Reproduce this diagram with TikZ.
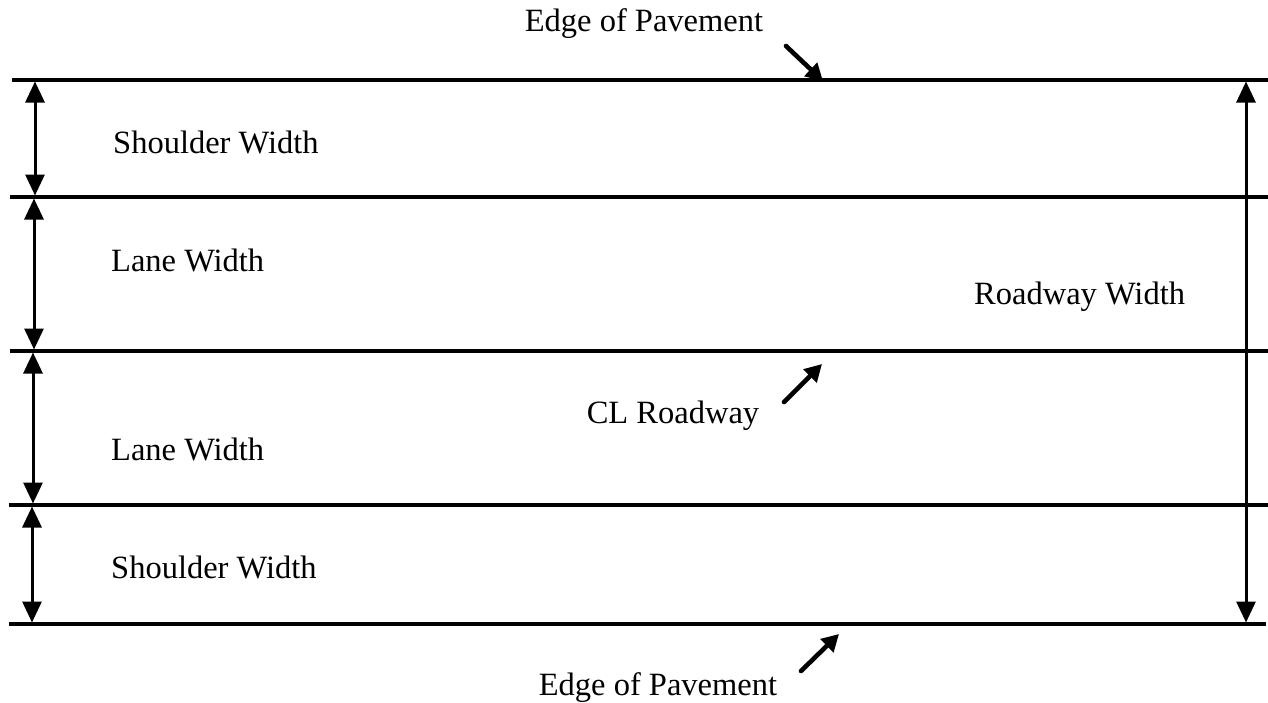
\documentclass[tikz,border=0pt]{standalone}
\usepackage{fontspec}
\setmainfont{Liberation Serif}
\usetikzlibrary{arrows.meta}
\begin{document}
\begin{tikzpicture}[x=1pt,y=-1pt,
  road/.style={line width=4.2pt},
  dim/.style={line width=3pt,{Triangle[length=21pt,width=19pt]}-{Triangle[length=21pt,width=19pt]},shorten <=1.5pt,shorten >=1.5pt},
  pointer/.style={line width=4.6pt,-{Triangle[length=17pt,width=18pt]},line cap=round},
  lbl/.style={inner sep=0pt,font=\fontsize{32.5}{38}\selectfont}]
\useasboundingbox (0,0) rectangle (1268,702);
% pavement lines
\coordinate (l1a) at (12,80);  \coordinate (l1b) at (1268,80);
\coordinate (l2a) at (10,197); \coordinate (l2b) at (1268,197);
\coordinate (l3a) at (10,351); \coordinate (l3b) at (1268,351);
\coordinate (l4a) at (9,505);  \coordinate (l4b) at (1268,505);
\coordinate (l5a) at (9,624);  \coordinate (l5b) at (1266,624);
\draw[road] (l1a) -- (l1b);
\draw[road] (l2a) -- (l2b);
\draw[road] (l3a) -- (l3b);
\draw[road] (l4a) -- (l4b);
\draw[road] (l5a) -- (l5b);
% dimension arrows
\coordinate (d1t) at (35,80);  \coordinate (d1b) at (35,197);
\coordinate (d2t) at (34,197); \coordinate (d2b) at (34,351);
\coordinate (d3t) at (33,351); \coordinate (d3b) at (33,505);
\coordinate (d4t) at (32,505); \coordinate (d4b) at (32,624);
\coordinate (rwt) at (1246,80); \coordinate (rwb) at (1246,624);
\draw[dim] (d1t) -- (d1b);
\draw[dim] (d2t) -- (d2b);
\draw[dim] (d3t) -- (d3b);
\draw[dim] (d4t) -- (d4b);
\draw[dim] (rwt) -- (rwb);
% labels
\node[lbl,anchor=west] (sw1) at (113,142) {Shoulder Width};
\node[lbl,anchor=west] (lw1) at (111,260) {Lane Width};
\node[lbl,anchor=west] (lw2) at (111,449) {Lane Width};
\node[lbl,anchor=west] (sw2) at (111,567) {Shoulder Width};
\node[lbl,anchor=west] (rw) at (974,297) {Roadway Width};
\node[lbl] (ep1) at (644,24) {Edge of Pavement};
\node[lbl] (cl) at (673,416) {CL Roadway};
\node[lbl] (ep2) at (658,688) {Edge of Pavement};
% pointers
\coordinate (p1s) at (786,46);  \coordinate (p1e) at (823,81);
\coordinate (p2s) at (784,402); \coordinate (p2e) at (822,364);
\coordinate (p3s) at (801,671); \coordinate (p3e) at (839,634);
\draw[pointer] (p1s) -- (p1e);
\draw[pointer] (p2s) -- (p2e);
\draw[pointer] (p3s) -- (p3e);
\end{tikzpicture}
\end{document}
